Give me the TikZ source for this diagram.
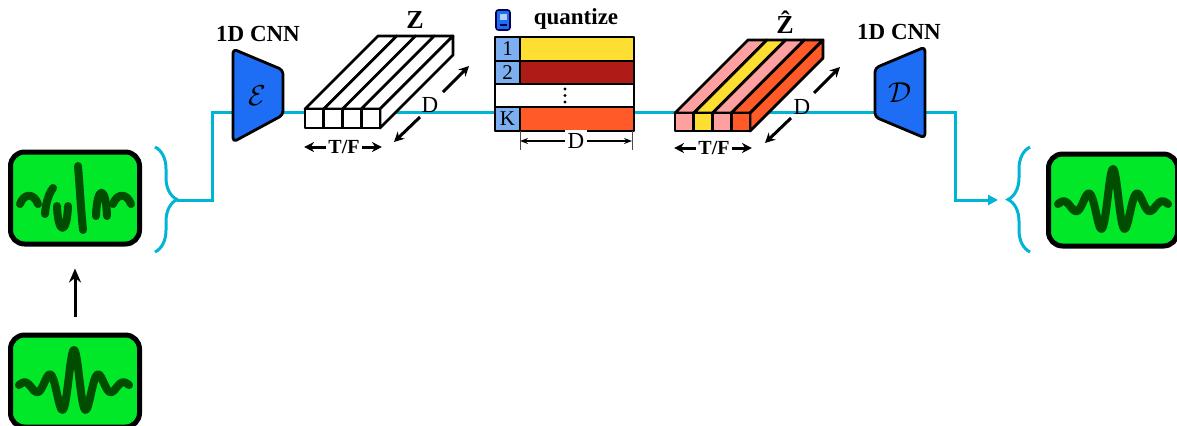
\documentclass[tikz,border=0pt]{standalone}
\usepackage{fontspec}
\setmainfont{Liberation Serif}
\usetikzlibrary{arrows.meta,decorations.pathreplacing}

\definecolor{sigcyan}{RGB}{0,180,214}
\definecolor{scrgreen}{RGB}{0,232,40}
\definecolor{wavegreen}{RGB}{0,77,0}
\definecolor{netblue}{RGB}{30,110,245}
\definecolor{idxblue}{RGB}{125,175,240}
\definecolor{cbyellow}{RGB}{255,222,50}
\definecolor{cbred}{RGB}{175,28,24}
\definecolor{cborange}{RGB}{255,90,40}
\definecolor{cbpink}{RGB}{255,160,160}

% slab of latent vectors: front x, top y, bottom y, side colour, cell colours
\newcommand{\slab}[5]{%
  \foreach \c [count=\i from 0] in {#5} {
    \filldraw[fill=\c, outl] ({#1+\i*18.75},#2) -- ++(18.75,0) -- ++(73,-73)
      -- ++(-18.75,0) -- cycle;
  }
  \filldraw[fill=#4, outl] ({#1+75},#2) -- ({#1+75},#3) -- ++(73,-73)
    -- ++(0,{#2-#3}) -- cycle;
  \foreach \c [count=\i from 0] in {#5} {
    \filldraw[fill=\c, outl] ({#1+\i*18.75},#2) rectangle ++(18.75,{#3-#2});
  }
}

% clean waveform around a given centre (wavelet with a slow envelope)
\newcommand{\cleanwave}[1]{%
  \draw[wave, shift={#1}] plot[domain=-55:55, samples=140, smooth]
    (\x, {3-36/(1+(\x/16.9)^2)*cos(14.4*\x)});
}

\begin{document}
\begin{tikzpicture}[x=0.5pt, y=-0.5pt,
    outl/.style={draw=black, line width=1.4pt, line join=round},
    scr/.style={draw=black, line width=2.5pt, rounded corners=7pt, fill=scrgreen,
      minimum width=64.5pt, minimum height=46pt, inner sep=0pt},
    wave/.style={draw=wavegreen, line width=4pt, line cap=round, line join=round},
    sig/.style={draw=sigcyan, line width=1.5pt},
    dimarrow/.style={line width=1.5pt, -{Stealth[length=5pt,width=5pt]}},
    lbl/.style={font=\fontsize{11.5}{12}\selectfont\bfseries},
  ]
  \useasboundingbox (0,0) rectangle (1177,425);
  \clip (0,0) rectangle (1177,425);

  % Signal path (drawn first, runs behind everything).
  \coordinate (ltip) at (177,200);
  \coordinate (lcorner) at (212,112);
  \coordinate (rcorner) at (955,112);
  \coordinate (rtip) at (998,200);
  \draw[sig, -{Triangle[length=5pt,width=5pt]}] (ltip) -| (lcorner) -- (rcorner) |- (rtip);

  % Braces.
  \draw[sig, decorate, decoration={brace, amplitude=11pt}] (155,147) -- (155,252);
  \draw[sig, decorate, decoration={brace, amplitude=11pt}] (1030,252) -- (1030,147);

  % Screens.
  \node[scr] (rawbox) at (75,381) {};
  \node[scr] (maskbox) at (75,198) {};
  \node[scr] (outbox) at (1113,200) {};
  \draw[line width=1.5pt, -{Stealth[length=7pt,width=6pt]}, shorten <=8pt, shorten >=11pt]
    (rawbox.north) -- (maskbox.south);

  % Clean waveforms.
  \cleanwave{(74,383)}
  \cleanwave{(1113,202)}

  % Broken waveform.
  \draw[wave] (20,204) .. controls (24,193) and (34,193) .. (38,204);
  \draw[wave] (45,214) .. controls (46,200) and (50,192) .. (53,188);
  \draw[wave] (57,206) .. controls (58,235) and (67,235) .. (68,206);
  \draw[wave] (78,166) .. controls (80,190) and (81,210) .. (83,230);
  \draw[wave] (96,216) .. controls (97,185) and (106,185) .. (107,216);
  \draw[wave] (113,204) .. controls (117,193) and (127,193) .. (131,204);

  % Encoder.
  \filldraw[fill=netblue, outl, rounded corners=2pt]
    (233,49) -- (283,70) -- (283,115) -- (233,142) -- cycle;
  \node[font=\fontsize{15}{15}\selectfont] (enc) at (257,96) {$\mathcal{E}$};
  \node[lbl] (enccap) at (258,34) {1D CNN};

  % Latent Z.
  \slab{305}{109}{128}{white}{white,white,white,white}
  \node[font=\fontsize{13}{13}\selectfont\bfseries] (zlab) at (415,20) {Z};
  \node[font=\fontsize{11.5}{12}\selectfont] (zd) at (430,105) {D};
  \draw[dimarrow] ([shift={(13,-13)}]zd.center) -- ++(26,-26);
  \draw[dimarrow] ([shift={(-10,12)}]zd.center) -- ++(-26,25);
  \node[font=\fontsize{10}{10}\selectfont\bfseries, inner sep=1pt] (ztf) at (344,147) {T/F};
  \draw[dimarrow] (ztf.west) -- ++(-22,0);
  \draw[dimarrow] (ztf.east) -- ++(20,0);

  % Codebook.
  \fill[idxblue] (495,37) rectangle (520,84) (495,107) rectangle (520,131);
  \fill[cbyellow] (520,37) rectangle (634,61);
  \fill[cbred] (520,61) rectangle (634,84);
  \fill[white] (495,84) rectangle (634,107);
  \fill[cborange] (520,107) rectangle (634,131);
  \draw[outl] (495,37) rectangle (634,131);
  \draw[outl] (495,61) -- (634,61) (495,84) -- (634,84) (495,107) -- (634,107);
  \draw[outl] (520,37) -- (520,84) (520,107) -- (520,131);
  \node[font=\fontsize{10.5}{11}\selectfont] (cb1) at (507.5,49) {1};
  \node[font=\fontsize{10.5}{11}\selectfont] (cb2) at (507.5,72.5) {2};
  \node[font=\fontsize{10.5}{11}\selectfont] (cbk) at (507.5,119) {K};
  \foreach \y in {89,95.5,102} \fill (565,\y) circle (1.6);
  \node[lbl] (qlab) at (576,19) {quantize};

  % book icon
  \filldraw[fill=netblue, draw=black!70!blue, line width=0.8pt, rounded corners=1.2pt]
    (496,10) rectangle (510,30);
  \fill[idxblue!60!white] (499.5,13.5) rectangle (506.5,19.5);
  \draw[black!70!blue, line width=0.7pt] (499.5,25) -- (506.5,25);

  % codebook width
  \draw[black!70, line width=0.5pt] (520,131) -- (520,150) (632,131) -- (632,150);
  \draw[line width=0.6pt, {Stealth[length=4pt]}-{Stealth[length=4pt]}] (520,141) -- (632,141);
  \node[font=\fontsize{11.5}{12}\selectfont, fill=white, inner sep=1.5pt] (cbd) at (576,141) {D};

  % Quantized latent.
  \slab{675}{113}{131}{cborange}{cbpink,cbyellow,cbpink,cborange}
  \node[font=\fontsize{13}{13}\selectfont\bfseries] (zqlab) at (785,22) {\^Z};
  \node[font=\fontsize{11.5}{12}\selectfont] (zqd) at (802,107) {D};
  \draw[dimarrow] ([shift={(12,-14)}]zqd.center) -- ++(26,-26);
  \draw[dimarrow] ([shift={(-11,11)}]zqd.center) -- ++(-26,25);
  \node[font=\fontsize{10}{10}\selectfont\bfseries, inner sep=1pt] (zqtf) at (714,148) {T/F};
  \draw[dimarrow] (zqtf.west) -- ++(-22,0);
  \draw[dimarrow] (zqtf.east) -- ++(20,0);

  % Decoder.
  \filldraw[fill=netblue, outl, rounded corners=2pt]
    (875,68) -- (925,47) -- (925,138) -- (875,117) -- cycle;
  \node[font=\fontsize{15}{15}\selectfont] (dec) at (900,93) {$\mathcal{D}$};
  \node[lbl] (deccap) at (899,32) {1D CNN};
\end{tikzpicture}
\end{document}
